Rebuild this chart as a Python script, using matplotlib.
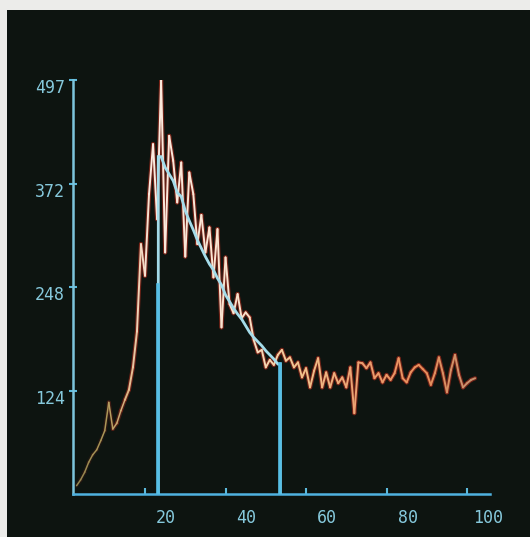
import numpy as np
import matplotlib
matplotlib.use("Agg")
import matplotlib.pyplot as plt
from matplotlib.collections import LineCollection
from matplotlib.colors import LinearSegmentedColormap, to_rgba
import matplotlib.transforms as mtransforms

# ---------------- data ----------------
channel_start = 3
counts = [10, 17, 26, 38, 47, 53, 64, 76, 110, 78, 85, 100, 113, 125, 152,   # ch3-17
          195, 300, 262, 360, 420, 330, 497, 290, 430, 400, 350, 398, 285, 386,  # ch18-31
          360, 300, 335, 290, 320, 260, 318, 200, 284, 228, 217, 240, 211, 218,  # ch32-45
          212, 185, 170, 173, 152, 161, 155, 167, 173, 160, 164, 152, 158, 140,  # ch46-59
          151, 128, 148, 163, 128, 146, 128, 145, 133, 140, 128, 152, 97, 158,   # ch60-73
          157, 151, 158, 139, 145, 134, 143, 137, 145, 163, 139, 134, 146, 152,  # ch74-87
          155, 150, 145, 131, 145, 164, 145, 122, 149, 167, 143, 128, 133, 137,  # ch88-101
          139]                                                                  # ch102
fit_start = 24
fit_values = [405, 392, 384, 376, 362, 357, 340, 328, 317, 305, 295, 285, 276,
              269, 259, 251, 239, 231, 223, 216, 210, 202, 194, 188, 183, 178,
              172, 167, 162, 156]
gate_low = 23.3
gate_high = 53.6
y_ticks = [124, 248, 372, 497]
y_tick_labels = ["124", "248", "372", "497"]
x_ticks = [20, 40, 60, 80, 100]
x_tick_labels = ["20", "40", "60", "80", "100"]

ch = np.arange(channel_start, channel_start + len(counts))
fit_ch = np.arange(fit_start, fit_start + len(fit_values))

# ---------------- figure ----------------
W, H = 530, 537
fig = plt.figure(figsize=(W / 100, H / 100), dpi=100, facecolor="#ececea")

# dark CRT panel
panel = fig.add_axes([7 / W, 0, 1 - 7 / W, (H - 10) / H])
panel.set_facecolor("#0d1410")
panel.set_xticks([]); panel.set_yticks([])
for s in panel.spines.values():
    s.set_visible(False)

ax_left, ax_right = 73, 490
ax_bottom, ax_top = 494, 80
ax = fig.add_axes([ax_left / W, (H - ax_bottom) / H,
                   (ax_right - ax_left) / W, (ax_bottom - ax_top) / H])
ax.patch.set_alpha(0)
ax.set_xlim(2.11, 105.7)
ax.set_ylim(0, 497)

axis_col = "#5cb9dc"
text_col = "#86c9dc"
for side in ["top", "right"]:
    ax.spines[side].set_visible(False)
ax.spines["left"].set_color("#7cc4dc")
ax.spines["bottom"].set_color("#4fb2e0")
for side in ["left", "bottom"]:
    ax.spines[side].set_linewidth(1.8)

# histogram: red glow underlay (weak on the dim rising edge) + gradient core
pts = np.column_stack([ch, counts])
segs = np.stack([pts[:-1], pts[1:]], axis=1)
mid = (ch[:-1] + ch[1:]) / 2
glow_alpha = np.clip((mid - 8) / 10, 0.15, 0.9)
glow_cols = [to_rgba("#7a2418", a) for a in glow_alpha]
ax.add_collection(LineCollection(segs, colors=glow_cols, linewidths=3.0,
                                 capstyle="round", zorder=2))
cmap = LinearSegmentedColormap.from_list("crt", [
    (0.00, "#877b4a"), (0.10, "#ad9858"), (0.15, "#e0b888"), (0.20, "#fbeadf"),
    (0.42, "#f9e2cc"), (0.55, "#f0c48e"), (0.70, "#eca070"), (0.85, "#e88e5a"),
    (1.00, "#bc9274")])
widths = np.where(mid < 15, 1.1, 1.4)
ax.add_collection(LineCollection(segs, colors=cmap(mid / 105.0), linewidths=widths,
                                 capstyle="round", zorder=3))

# fitted curve with gates
fx = np.concatenate([[gate_low, gate_low], fit_ch, [gate_high, gate_high]])
fy = np.concatenate([[0, fit_values[0]], fit_values, [fit_values[-1], 0]])
ax.plot(fx, fy, color="#a4dcea", lw=2.0, zorder=4, solid_joinstyle="miter")
ax.plot([gate_low, gate_low], [0, fit_values[0] * 0.62], color="#56bfe6", lw=2.6, zorder=4)
ax.plot([gate_high, gate_high], [0, fit_values[-1]], color="#56bfe6", lw=2.6, zorder=4)

# ticks
ax.set_yticks(y_ticks)
ax.set_yticklabels(y_tick_labels)
ax.set_xticks(x_ticks)
ax.set_xticklabels(x_tick_labels)
ax.tick_params(axis="y", direction="inout", length=6, width=1.5, color=axis_col,
               labelcolor=text_col, labelsize=12, pad=3)
ax.tick_params(axis="x", direction="in", length=4, width=1.5, color=axis_col,
               labelcolor=text_col, labelsize=12, pad=11)
for lab in ax.get_yticklabels():
    lab.set_fontfamily("DejaVu Sans Mono")
    lab.set_transform(lab.get_transform() +
                      mtransforms.ScaledTranslation(0, -6 / 100, fig.dpi_scale_trans))
for lab in ax.get_xticklabels():
    lab.set_fontfamily("DejaVu Sans Mono")
    lab.set_transform(lab.get_transform() +
                      mtransforms.ScaledTranslation(21 / 100, 0, fig.dpi_scale_trans))

fig.savefig("out.png", dpi=100, facecolor=fig.get_facecolor())
